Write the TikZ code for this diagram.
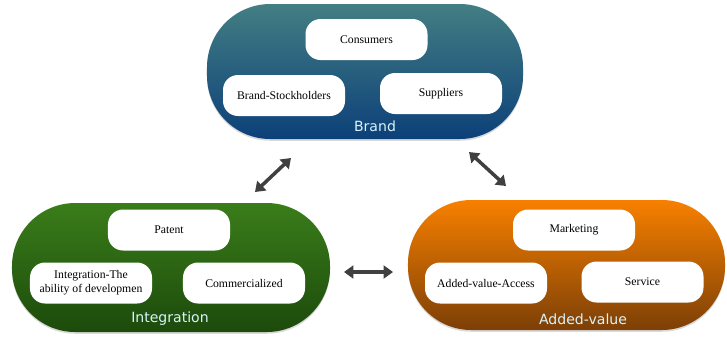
\documentclass[tikz,border=0pt]{standalone}
\usepackage{fontspec}
\setmainfont{Liberation Serif}
\newfontfamily\labelfont{DejaVu Sans}
\usetikzlibrary{arrows.meta,shadows}

\definecolor{brandtop}{HTML}{437E83}
\definecolor{brandbot}{HTML}{0C4079}
\definecolor{integtop}{HTML}{3A7D1A}
\definecolor{integbot}{HTML}{1C4A0B}
\definecolor{addedtop}{HTML}{F88000}
\definecolor{addedbot}{HTML}{7C3F06}
\definecolor{arrowgray}{HTML}{404040}

\begin{document}
\begin{tikzpicture}[
    x=0.03cm, y=-0.03cm,
    pill/.style={
        rectangle,
        rounded corners=1.9cm,
        minimum width=9.5cm,
        minimum height=3.9cm,
        drop shadow={shadow xshift=0pt, shadow yshift=-1.5pt, opacity=0.3}
    },
    item/.style={
        rectangle,
        rounded corners=0.45cm,
        fill=white,
        minimum width=3.66cm,
        minimum height=1.23cm,
        align=center,
        font=\fontsize{10}{12}\selectfont,
        inner sep=1pt
    },
    caption/.style={
        text=white!85!cyan,
        font=\labelfont\fontsize{12}{14}\selectfont
    },
    link/.style={
        draw=arrowgray,
        line width=3pt,
        {Triangle[width=11pt,length=8pt]}-{Triangle[width=11pt,length=8pt]}
    }
]
\useasboundingbox (0,0) rectangle (727,350);

% Brand
\node[pill, minimum width=9.48cm, minimum height=4.05cm, top color=brandtop, bottom color=brandbot] (brand) at (365,71.5) {};
\node[item] (consumers) at (366.5,39.5) {Consumers};
\node[item] (stockholders) at (284,95.5) {Brand-Stockholders};
\node[item] (suppliers) at (441,93.5) {Suppliers};
\node[caption] (brandlabel) at (375,126) {Brand};

% Integration
\node[pill, minimum width=9.54cm, minimum height=3.87cm, top color=integtop, bottom color=integbot] (integ) at (171,267.5) {};
\node[item] (patent) at (169,230) {Patent};
\node[item] (ability) at (91,283) {Integration-The\\ability of developmen};
\node[item] (commerc) at (244,283) {Commercialized};
\node[caption] (integlabel) at (170,319) {Integration};

% Added-value
\node[pill, minimum width=9.51cm, minimum height=3.9cm, top color=addedtop, bottom color=addedbot] (added) at (566.5,265) {};
\node[item] (marketing) at (574,230) {Marketing};
\node[item] (access) at (486,283) {Added-value-Access};
\node[item] (service) at (642.5,282) {Service};
\node[caption] (addedlabel) at (583,319) {Added-value};

% Pijlen
\coordinate (bi) at (291,158);
\coordinate (ib) at (255,192);
\coordinate (ba) at (469,152);
\coordinate (ab) at (506,186);
\coordinate (ia) at (344,272);
\coordinate (ai) at (393,272);
\draw[link] (bi) -- (ib);
\draw[link] (ba) -- (ab);
\draw[link] (ia) -- (ai);

\end{tikzpicture}
\end{document}
